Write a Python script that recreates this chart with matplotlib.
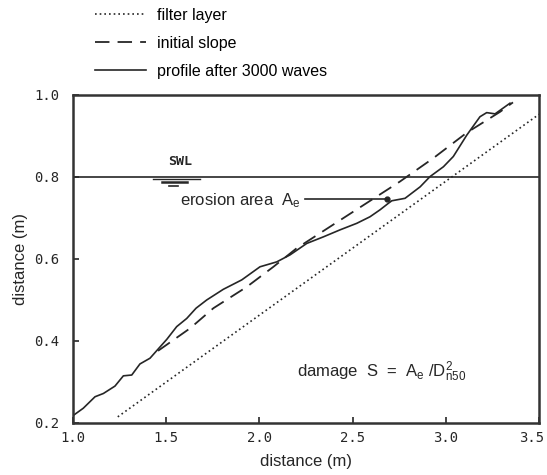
import matplotlib
matplotlib.use("Agg")
import matplotlib.pyplot as plt
import matplotlib.transforms as mtransforms
from matplotlib.lines import Line2D

plt.rcParams['font.family'] = ['Liberation Sans', 'DejaVu Sans']
plt.rcParams['mathtext.fontset'] = 'custom'
plt.rcParams['mathtext.rm'] = 'Liberation Sans'
plt.rcParams['mathtext.it'] = 'Liberation Sans'
plt.rcParams['mathtext.default'] = 'regular'

# filter layer (dotted)
filter_x = [1.24, 3.5]
filter_y = [0.215, 0.953]

# initial slope (dashed)
initial_x = [1.456, 1.628, 1.753, 1.932, 2.075, 2.199, 2.754, 2.933, 3.112, 3.291, 3.36]
initial_y = [0.376, 0.431, 0.480, 0.532, 0.581, 0.626, 0.789, 0.846, 0.908, 0.959, 0.982]

# profile after 3000 waves (solid)
profile_x = [1.0, 1.055, 1.118, 1.163, 1.225, 1.27, 1.315, 1.359, 1.413, 1.452,
             1.503, 1.556, 1.61, 1.66, 1.717, 1.806, 1.905, 2.003, 2.093, 2.164,
             2.254, 2.343, 2.432, 2.522, 2.593, 2.647, 2.692, 2.710, 2.781, 2.862,
             2.915, 2.987, 3.04, 3.112, 3.183, 3.219, 3.264, 3.344]
profile_y = [0.218, 0.236, 0.264, 0.272, 0.290, 0.315, 0.317, 0.344, 0.358, 0.378,
             0.404, 0.435, 0.455, 0.480, 0.500, 0.526, 0.549, 0.581, 0.593, 0.610,
             0.638, 0.654, 0.671, 0.687, 0.703, 0.720, 0.736, 0.742, 0.748, 0.776,
             0.801, 0.825, 0.850, 0.902, 0.947, 0.957, 0.954, 0.980]

swl = 0.8
xticks = [1.0, 1.5, 2.0, 2.5, 3.0, 3.5]
yticks = [0.2, 0.4, 0.6, 0.8, 1.0]

ink = '#262626'
dash = (0, (8, 4.5))
dots = (0, (1, 1.8))

fig = plt.figure(figsize=(5.47, 4.75), dpi=100)
ax = fig.add_axes([0.1335, 0.1095, 0.852, 0.6905])

ax.plot(filter_x, filter_y, color=ink, lw=1.2, linestyle=dots)
ax.plot(initial_x, initial_y, color=ink, lw=1.3, linestyle=dash)
ax.plot(profile_x, profile_y, color=ink, lw=1.2)
ax.axhline(swl, color=ink, lw=1.2)

# SWL symbol
ax.text(1.573, 0.821, "SWL", family='DejaVu Sans Mono', fontsize=9.5, fontweight='bold',
        ha='center', va='bottom', color=ink)
ax.plot([1.43, 1.68], [0.794, 0.794], color=ink, lw=1.0)
ax.plot([1.475, 1.61], [0.787, 0.787], color=ink, lw=1.8)
ax.plot([1.515, 1.565], [0.779, 0.779], color=ink, lw=1.2)

# erosion area annotation
ax.text(2.22, 0.743, "erosion area  A$_{e}$", fontsize=12, ha='right', va='center', color=ink)
ax.plot([2.245, 2.683], [0.746, 0.746], color=ink, lw=1.2)
ax.plot([2.683], [0.746], 'o', color=ink, ms=3.5)

ax.text(2.202, 0.312, r"damage  S  =  A$_{e}$ /D$_{n50}^{2}$", fontsize=12,
        ha='left', va='baseline', color=ink)

ax.set_xlim(1.0, 3.5)
ax.set_ylim(0.2, 1.0)
ax.set_xticks(xticks)
ax.set_yticks(yticks)
ax.set_xticklabels(["%.1f" % t for t in xticks], family='DejaVu Sans Mono', fontsize=10)
ax.set_yticklabels(["%.1f" % t for t in yticks], family='DejaVu Sans Mono', fontsize=10)
ax.tick_params(direction='in', length=4, width=1.2, colors=ink, pad=6)
ax.tick_params(axis='y', pad=10)
for s in ax.spines.values():
    s.set_linewidth(1.8)
    s.set_color('#333333')

# last x label sits a bit left so it stays in the picture
last = ax.get_xticklabels()[-1]
last.set_transform(last.get_transform() + mtransforms.ScaledTranslation(-7 / 100, 0, fig.dpi_scale_trans))

ax.set_xlabel("distance (m)", fontsize=12, color=ink, labelpad=6)
ax.set_ylabel("distance (m)", fontsize=12, color=ink, labelpad=4)

handles = [
    Line2D([], [], color=ink, lw=1.2, linestyle=dots),
    Line2D([], [], color=ink, lw=1.3, linestyle=dash),
    Line2D([], [], color=ink, lw=1.2),
]
labels = ["filter layer", "initial slope", "profile after 3000 waves"]
fig.legend(handles, labels, loc='upper left', bbox_to_anchor=(95 / 547, 1 - 8 / 475),
           frameon=False, fontsize=11.5, handlelength=3.2, handletextpad=0.7,
           labelspacing=0.8, borderpad=0, borderaxespad=0)

fig.savefig("out.png", dpi=100)
